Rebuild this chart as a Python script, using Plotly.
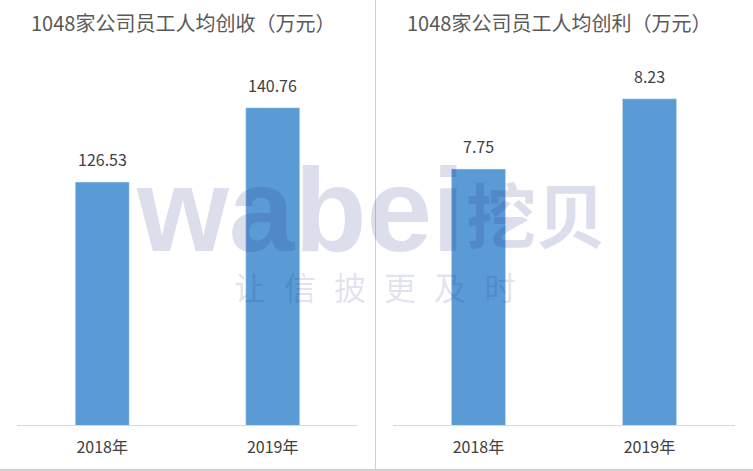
import plotly.graph_objects as go

years = ["2018年", "2019年"]
revenue = [126.53, 140.76]
profit = [7.75, 8.23]
titles = ["1048家公司员工人均创收（万元）", "1048家公司员工人均创利（万元）"]
watermark_main = "wabei"
watermark_cn = "挖贝"
watermark_sub = "\u2002\u200a".join("让信披更及时")

W, H = 753, 471
BLUE = "#5B9BD5"
FONT = "Microsoft YaHei, Noto Sans CJK SC, sans-serif"

fig = go.Figure()
fig.add_trace(go.Bar(x=years, y=revenue, marker_color=BLUE, xaxis="x", yaxis="y",
                     hoverinfo="skip"))
fig.add_trace(go.Bar(x=years, y=profit, marker_color=BLUE, xaxis="x2", yaxis="y2",
                     hoverinfo="skip"))

ann = []
for xs, ys, xr, yr in [(years, revenue, "x", "y"), (years, profit, "x2", "y2")]:
    for xv, yv in zip(xs, ys):
        ann.append(dict(x=xv, y=yv, xref=xr, yref=yr, text=f"{yv:.2f}", showarrow=False,
                        yanchor="bottom", yshift=9, font=dict(size=16, color="#404040", family=FONT)))

for cx, t in [(183 / W, titles[0]), (559 / W, titles[1])]:
    ann.append(dict(x=cx, y=1 - 23 / H, xref="paper", yref="paper", text=t, showarrow=False,
                    xanchor="center", yanchor="middle",
                    font=dict(size=20, color="#595959", family=FONT)))

# watermark
WM = "rgba(25,32,130,0.15)"
ann.append(dict(x=300 / W, y=1 - 210 / H, xref="paper", yref="paper", text=watermark_main,
                showarrow=False, xanchor="center", yanchor="middle",
                font=dict(size=118, color=WM,
                          family="Liberation Sans, Arial, sans-serif", weight="bold")))
ann.append(dict(x=536 / W, y=1 - 212 / H, xref="paper", yref="paper", text=watermark_cn,
                showarrow=False, xanchor="center", yanchor="middle",
                font=dict(size=70, color=WM, family="Noto Sans CJK SC", weight="bold")))
ann.append(dict(x=375 / W, y=1 - 286 / H, xref="paper", yref="paper", text=watermark_sub,
                showarrow=False, xanchor="center", yanchor="middle",
                font=dict(size=32, color=WM, family="Noto Sans CJK SC")))

base = (H - 425) / H
top = 1 - 10 / H
axis_common = dict(showgrid=False, zeroline=False, showline=True, linecolor="#D9D9D9",
                   linewidth=1, ticks="", tickfont=dict(size=16, color="#404040", family=FONT),
                   ticklabelstandoff=8, fixedrange=True)
yaxis_common = dict(showgrid=False, zeroline=False, showline=False, showticklabels=False,
                    fixedrange=True)

fig.update_layout(
    width=W, height=H,
    margin=dict(l=0, r=0, t=0, b=0),
    paper_bgcolor="white", plot_bgcolor="white",
    showlegend=False, bargap=0.683,
    xaxis=dict(domain=[17 / W, 358 / W], anchor="y", **axis_common),
    yaxis=dict(domain=[base, top], anchor="x", range=[80, 159.47], **yaxis_common),
    xaxis2=dict(domain=[393 / W, 735 / W], anchor="y2", **axis_common),
    yaxis2=dict(domain=[base, top], anchor="x2", range=[6, 8.837], **yaxis_common),
    annotations=ann,
    shapes=[
        dict(type="line", xref="paper", yref="paper", x0=375.5 / W, x1=375.5 / W, y0=0, y1=1,
             line=dict(color="#D0D0D0", width=1)),
        dict(type="line", xref="paper", yref="paper", x0=0, x1=1, y0=1 / H, y1=1 / H,
             line=dict(color="#D0D0D0", width=2)),
    ],
)

fig.write_html("out.html", config={"displayModeBar": False},
               post_script="document.body.style.margin='0';document.body.style.overflow='hidden';")
